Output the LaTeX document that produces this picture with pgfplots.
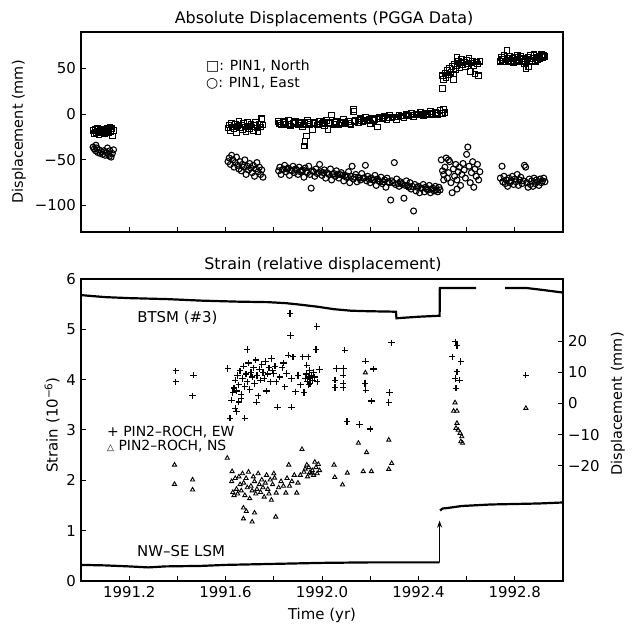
\documentclass[border=0pt]{standalone}
\usepackage{fontspec}
\setmainfont{DejaVu Sans}
\usepackage{pgfplots}
\pgfplotsset{compat=1.18}
\usetikzlibrary{arrows.meta}
\begin{document}
\fontsize{15}{17}\selectfont
\begin{tikzpicture}
\path[use as bounding box] (0bp,0bp) rectangle (633bp,626bp);
\pgfplotsset{
 base/.style={scale only axis, width=482bp, xmin=1991, xmax=1993,
   xtick={1991.2,1991.4,1991.6,1991.8,1992.0,1992.2,1992.4,1992.6,1992.8},
   tick align=inside, tick pos=left, major tick length=5bp,
   tick style={line width=1pt, black},
   axis line style={line width=1.5pt},
   font=\fontsize{15}{17}\selectfont, anchor=south west},
 nmark/.style={only marks, mark=square, mark size=2.8bp, mark options={line width=1.1pt, black, fill=none}},
 emark/.style={only marks, mark=o, mark size=3bp, mark options={line width=1.1pt, black, fill=none}},
 ewmark/.style={only marks, mark=+, mark size=3.2bp, mark options={line width=1.2pt, black}},
 nsmark/.style={only marks, mark=triangle, mark size=2.4bp, mark options={line width=0.9pt, black, fill=none}},
 strainline/.style={black, line width=2.2bp, no marks}
}
% ---------------- TOP PANEL ----------------
\begin{axis}[base, at={(81bp,394bp)}, height=200bp, ymin=-129, ymax=90,
  xticklabels={}, ytick={-100,-50,0,50}, yticklabels={−100,−50,0,50}]
% North
\addplot[nmark] coordinates {
(1991.050,-18)(1991.055,-21)(1991.060,-17)(1991.065,-20)(1991.070,-19)(1991.075,-22)(1991.080,-18)(1991.085,-20)(1991.090,-17)(1991.095,-19)(1991.100,-21)(1991.105,-18)(1991.110,-16)(1991.115,-20)(1991.120,-14)(1991.125,-19)(1991.130,-24)(1991.135,-18)(1991.128,-16)(1991.068,-16)
(1991.610,-15)(1991.615,-12)(1991.620,-18)(1991.625,-10)(1991.630,-14)(1991.635,-16)(1991.640,-11)(1991.645,-20)(1991.650,-13)(1991.655,-8)(1991.660,-15)(1991.665,-12)(1991.670,-17)(1991.675,-10)(1991.680,-14)(1991.690,-9)(1991.695,-13)(1991.700,-16)(1991.705,-11)(1991.710,-14)(1991.715,-18)(1991.720,-12)(1991.725,-9)(1991.730,-15)(1991.735,-19)(1991.740,-11)(1991.745,-14)(1991.750,-5)(1991.755,-12)(1991.685,-19)
(1991.820,-8)(1991.830,-12)(1991.840,-9)(1991.850,-11)(1991.860,-7)(1991.870,-13)(1991.880,-10)(1991.890,-8)(1991.900,-12)(1991.910,-9)(1991.920,-14)(1991.930,-10)(1991.940,-7)(1991.950,-11)(1991.960,-17)(1991.970,-9)(1991.980,-12)(1991.990,-8)(1992.000,-10)(1992.010,-13)(1992.020,-7)(1992.025,-17)(1992.030,-9)(1992.040,-1)(1992.050,-11)(1992.060,-8)(1992.070,-12)(1992.080,-9)(1992.090,-6)(1992.100,-10)(1992.110,-8)(1992.120,-12)(1992.130,5)(1992.132,3)(1992.140,-7)(1992.150,-9)(1992.160,-5)(1992.170,-8)(1992.180,-3)(1992.190,-7)(1992.200,-10)(1992.210,-5)(1992.220,-6)(1992.230,-14)(1992.240,-3)(1992.250,-5)(1992.260,-2)(1992.270,-6)(1992.280,-1)(1992.290,-4)(1992.300,-3)(1992.310,-6)(1992.320,-1)(1992.330,-2)(1992.340,-4)(1992.350,0)(1992.360,-2)(1992.370,1)(1992.380,-3)(1992.390,0)(1992.400,-1)(1992.410,2)(1992.420,-2)(1992.430,1)(1992.440,-1)(1992.450,3)(1992.460,0)(1992.470,2)(1992.480,-1)(1992.490,4)(1992.500,1)(1992.505,5)(1992.510,2)
(1991.825,-10)(1991.845,-8)(1991.865,-11)(1991.885,-9)(1991.905,-10)(1991.925,-12)(1991.945,-9)(1991.965,-10)(1991.985,-11)(1992.005,-9)(1992.035,-10)(1992.055,-9)(1992.075,-10)(1992.095,-9)(1992.115,-10)(1992.135,-8)(1992.155,-7)(1992.175,-7)(1992.195,-6)(1992.215,-7)(1992.235,-5)(1992.255,-4)(1992.275,-4)(1992.295,-3)(1992.315,-3)(1992.335,-2)(1992.355,-1)(1992.375,-1)(1992.395,-1)(1992.415,0)(1992.435,0)(1992.455,1)(1992.475,1)(1992.495,1)
(1991.935,-24)(1991.930,-30)(1991.926,-35)
(1992.500,28)(1992.500,42)(1992.505,38)(1992.510,45)(1992.515,40)(1992.520,48)(1992.525,43)(1992.530,50)(1992.535,46)(1992.540,52)(1992.545,44)(1992.550,55)(1992.555,49)(1992.560,53)(1992.565,58)(1992.570,51)(1992.575,56)(1992.580,60)(1992.585,54)(1992.590,57)(1992.595,52)(1992.600,59)(1992.605,55)(1992.610,61)(1992.615,47)(1992.620,56)(1992.625,58)(1992.630,53)(1992.635,44)(1992.640,57)(1992.645,55)(1992.650,42)(1992.655,58)(1992.545,38)(1992.560,62)
(1992.740,58)(1992.745,62)(1992.750,60)(1992.755,64)(1992.760,57)(1992.767,70)(1992.770,61)(1992.775,59)(1992.780,63)(1992.785,58)(1992.790,61)(1992.795,56)(1992.800,62)(1992.805,59)(1992.810,64)(1992.815,57)(1992.820,60)(1992.825,63)(1992.830,58)(1992.835,61)(1992.840,55)(1992.846,50)(1992.850,60)(1992.855,62)(1992.860,57)(1992.865,64)(1992.870,59)(1992.875,61)(1992.880,65)(1992.885,58)(1992.890,62)(1992.895,60)(1992.900,63)(1992.905,61)(1992.910,65)(1992.915,62)(1992.920,64)(1992.925,63)(1992.858,52)
};
% East
\addplot[emark] coordinates {
(1991.050,-36)(1991.055,-38)(1991.060,-40)(1991.065,-37)(1991.070,-42)(1991.075,-39)(1991.080,-43)(1991.085,-41)(1991.090,-44)(1991.095,-40)(1991.100,-45)(1991.105,-42)(1991.110,-37)(1991.115,-44)(1991.120,-40)(1991.125,-47)(1991.130,-43)(1991.135,-39)(1991.062,-34)(1991.118,-46)
(1991.610,-52)(1991.615,-48)(1991.620,-55)(1991.625,-45)(1991.630,-50)(1991.635,-58)(1991.640,-53)(1991.645,-47)(1991.650,-56)(1991.655,-60)(1991.660,-52)(1991.665,-62)(1991.670,-55)(1991.675,-58)(1991.680,-50)(1991.685,-66)(1991.690,-57)(1991.695,-61)(1991.700,-54)(1991.705,-59)(1991.710,-64)(1991.715,-56)(1991.720,-68)(1991.725,-60)(1991.730,-53)(1991.735,-63)(1991.740,-58)(1991.745,-66)(1991.750,-61)(1991.755,-69)
(1991.820,-62)(1991.825,-58)(1991.830,-66)(1991.840,-60)(1991.845,-56)(1991.850,-63)(1991.860,-59)(1991.865,-67)(1991.870,-61)(1991.880,-57)(1991.885,-64)(1991.890,-60)(1991.900,-66)(1991.905,-58)(1991.910,-63)(1991.920,-61)(1991.925,-69)(1991.930,-59)(1991.940,-64)(1991.945,-57)(1991.950,-66)(1991.955,-81)(1991.960,-62)(1991.970,-68)(1991.975,-60)(1991.980,-65)(1991.990,-55)(1991.995,-63)(1992.000,-67)(1992.010,-61)(1992.015,-70)(1992.020,-64)(1992.030,-66)(1992.035,-60)(1992.040,-72)(1992.050,-65)(1992.055,-68)(1992.060,-62)(1992.070,-70)(1992.075,-66)(1992.080,-64)(1992.090,-73)(1992.095,-67)(1992.100,-69)(1992.110,-63)(1992.115,-75)(1992.120,-68)(1992.125,-57)(1992.130,-71)(1992.140,-66)(1992.145,-74)(1992.150,-69)(1992.160,-72)(1992.165,-65)(1992.170,-70)(1992.180,-56)(1992.185,-73)(1992.190,-68)(1992.200,-75)(1992.205,-70)(1992.210,-72)(1992.220,-67)(1992.225,-78)(1992.230,-71)(1992.240,-74)(1992.245,-69)(1992.250,-76)(1992.260,-72)(1992.265,-80)(1992.270,-70)(1992.280,-75)(1992.285,-94)(1992.290,-73)(1992.300,-53)(1992.305,-77)(1992.310,-71)(1992.320,-79)(1992.325,-74)(1992.330,-76)(1992.340,-92)(1992.345,-78)(1992.350,-73)(1992.360,-80)(1992.365,-75)(1992.370,-82)(1992.380,-106)(1992.385,-77)(1992.390,-84)(1992.400,-79)(1992.405,-86)(1992.410,-81)(1992.420,-77)(1992.425,-85)(1992.430,-80)(1992.440,-83)(1992.445,-78)(1992.450,-86)(1992.460,-81)(1992.465,-84)(1992.470,-79)(1992.480,-85)(1992.485,-80)(1992.490,-83)
(1991.835,-61)(1991.855,-60)(1991.875,-62)(1991.895,-61)(1991.915,-62)(1991.935,-63)(1991.965,-63)(1991.985,-64)(1992.005,-64)(1992.025,-65)(1992.045,-66)(1992.065,-66)(1992.085,-67)(1992.105,-68)(1992.135,-69)(1992.155,-70)(1992.175,-70)(1992.195,-71)(1992.215,-72)(1992.235,-73)(1992.255,-74)(1992.275,-74)(1992.295,-75)(1992.315,-76)(1992.335,-77)(1992.355,-78)(1992.375,-79)(1992.395,-80)(1992.415,-81)(1992.435,-82)(1992.455,-82)(1992.475,-83)
(1992.495,-50)(1992.500,-62)(1992.505,-66)(1992.510,-58)(1992.515,-48)(1992.520,-70)(1992.525,-64)(1992.530,-52)(1992.535,-75)(1992.540,-86)(1992.545,-60)(1992.550,-68)(1992.555,-55)(1992.560,-72)(1992.565,-63)(1992.570,-58)(1992.575,-78)(1992.580,-66)(1992.585,-54)(1992.590,-61)(1992.595,-70)(1992.600,-44)(1992.605,-36)(1992.610,-57)(1992.615,-75)(1992.620,-64)(1992.625,-52)(1992.630,-80)(1992.635,-60)(1992.640,-68)(1992.645,-55)(1992.650,-72)(1992.655,-63)(1992.505,-72)(1992.525,-50)(1992.560,-82)
(1992.740,-70)(1992.747,-57)(1992.750,-74)(1992.755,-68)(1992.760,-76)(1992.765,-72)(1992.770,-79)(1992.775,-70)(1992.780,-75)(1992.785,-73)(1992.790,-68)(1992.795,-77)(1992.800,-71)(1992.805,-74)(1992.810,-66)(1992.815,-78)(1992.820,-72)(1992.825,-69)(1992.830,-76)(1992.835,-73)(1992.840,-56)(1992.845,-58)(1992.850,-75)(1992.855,-80)(1992.860,-71)(1992.865,-77)(1992.870,-73)(1992.875,-79)(1992.880,-70)(1992.885,-76)(1992.890,-72)(1992.895,-74)(1992.900,-78)(1992.905,-71)(1992.910,-75)(1992.915,-73)(1992.920,-70)(1992.925,-74)
};
\end{axis}
% ---------------- BOTTOM PANEL (strain) ----------------
\begin{axis}[base, at={(81bp,45bp)}, height=302bp, ymin=0, ymax=6,
  xticklabels={1991.2,,1991.6,,1992.0,,1992.4,,1992.8},
  ytick={0,1,2,3,4,5,6}, yticklabels={0,1,2,3,4,5,6}]
\addplot[strainline] coordinates {(1991.00,5.68)(1991.10,5.64)(1991.20,5.62)(1991.36,5.60)(1991.50,5.57)(1991.65,5.55)(1991.776,5.54)(1991.85,5.52)(1991.91,5.49)(1991.98,5.45)(1992.05,5.40)(1992.12,5.37)(1992.19,5.36)(1992.307,5.35)(1992.309,5.22)(1992.40,5.25)(1992.488,5.27)(1992.489,5.82)(1992.64,5.82)};
\addplot[strainline] coordinates {(1992.76,5.82)(1992.85,5.82)(1992.92,5.78)(1993.00,5.73)};
\addplot[strainline] coordinates {(1991.00,0.32)(1991.10,0.31)(1991.20,0.29)(1991.28,0.27)(1991.35,0.29)(1991.50,0.30)(1991.60,0.32)(1991.80,0.34)(1992.00,0.36)(1992.20,0.37)(1992.488,0.37)};
\addplot[strainline] coordinates {(1992.490,1.40)(1992.50,1.44)(1992.52,1.45)(1992.58,1.49)(1992.70,1.52)(1992.80,1.53)(1992.90,1.54)(1993.00,1.56)};
\draw[-{Stealth[length=7bp,width=5bp]}, line width=1pt] (axis cs:1992.488,0.37) -- (axis cs:1992.488,1.2);
\node at (axis cs:1991.40,5.23) {BTSM (\#3)};
\node at (axis cs:1991.415,0.60) {NW–SE LSM};
\end{axis}
% ---------------- BOTTOM PANEL (right axis, displacement) ----------------
\begin{axis}[base, at={(81bp,45bp)}, height=302bp, ymin=-57, ymax=40,
  hide x axis, axis y line*=right, ytick={-20,-10,0,10,20},
  yticklabels={−20,−10,0,10,20}, tick pos=right]
\addplot[ewmark] coordinates {
(1991.393,10.5)(1991.393,7.0)(1991.466,9.1)(1991.462,2.5)
(1991.609,11.3)(1991.618,-4.7)(1991.680,-4.7)(1991.640,-1.5)(1991.625,1.1)(1991.690,17.3)(1991.728,0.4)
(1991.630,3.5)(1991.635,5.0)(1991.640,7.5)(1991.645,4.0)(1991.650,9.0)(1991.655,6.0)(1991.660,10.5)(1991.665,3.0)(1991.670,8.0)(1991.675,12.0)(1991.680,5.5)(1991.685,9.5)(1991.690,7.0)(1991.695,13.0)(1991.700,4.5)(1991.705,10.0)(1991.710,8.5)(1991.715,11.5)(1991.720,6.5)(1991.725,14.0)(1991.730,9.0)(1991.735,2.5)(1991.740,11.0)(1991.745,7.5)(1991.750,12.5)(1991.755,10.0)(1991.760,8.0)(1991.765,13.5)(1991.770,4.0)(1991.775,9.5)(1991.780,11.5)(1991.785,7.0)(1991.790,14.5)(1991.795,10.5)(1991.800,9.7)(1991.805,12.0)(1991.810,7.0)(1991.815,-1.2)(1991.645,-2.5)(1991.655,0.5)(1991.665,1.5)
(1991.867,28.9)(1991.978,24.8)(1991.870,21.9)(1991.975,17.3)(1992.095,17.1)(1992.288,19.5)(1992.180,13.6)(1992.213,11.1)(1992.060,11.3)(1992.090,11.3)(1992.054,7.5)(1992.088,9.1)(1992.088,6.5)(1992.054,5.2)(1992.088,5.2)(1992.178,6.5)(1992.182,4.3)(1992.206,0.8)(1992.280,3.5)(1992.277,0.3)(1992.104,-5.8)(1992.155,-6.7)(1992.200,-8.2)
(1991.874,-1.2)(1991.890,3.8)(1991.925,3.5)(1991.920,15.0)(1991.943,15.0)(1991.937,12.3)(1991.948,10.7)(1991.990,10.9)(1991.860,15.5)(1991.880,15.0)(1991.853,9.7)(1991.874,8.1)(1991.846,5.4)
(1991.930,8.0)(1991.935,9.5)(1991.940,7.0)(1991.945,8.5)(1991.950,6.5)(1991.955,9.0)(1991.960,7.5)(1991.965,10.0)(1991.950,8.0)(1991.945,6.0)(1991.970,8.5)(1991.980,7.0)(1991.910,6.0)(1991.900,9.0)(1991.835,11.5)(1991.825,8.5)(1991.840,13.0)
(1992.553,19.8)(1992.560,18.7)(1992.540,15.0)(1992.576,13.5)(1992.560,10.2)(1992.553,8.1)(1992.570,7.5)(1992.556,4.9)(1992.846,9.1)
};
\addplot[nsmark] coordinates {
(1991.388,-19.7)(1991.388,-25.9)(1991.463,-24.5)(1991.463,-27.7)(1991.607,-17.5)(1991.627,-21.8)(1991.674,-37.0)(1991.710,-38.0)(1991.674,-33.5)(1991.686,-34.6)(1991.720,-35.1)(1991.808,-36.4)(1991.862,-19.7)(1991.917,-14.7)(1991.937,-19.7)(1991.970,-18.8)(1991.950,-22.1)(1992.050,-19.7)(1992.053,-23.7)(1992.085,-26.1)(1992.105,-22.3)(1992.151,-12.7)(1992.185,-15.7)(1992.171,-21.8)(1992.205,-21.8)(1992.277,-11.7)(1992.289,-19.2)(1992.277,-21.1)(1991.803,-23.9)(1991.850,-28.7)(1991.895,-28.7)(1991.810,-28.7)(1992.180,9.9)
(1991.625,-25.0)(1991.630,-28.5)(1991.635,-29.5)(1991.640,-24.0)(1991.645,-27.5)(1991.650,-29.0)(1991.655,-23.5)(1991.660,-26.0)(1991.665,-28.0)(1991.670,-22.5)(1991.675,-25.5)(1991.680,-29.5)(1991.685,-24.0)(1991.690,-27.0)(1991.695,-22.0)(1991.700,-30.5)(1991.705,-26.5)(1991.710,-28.0)(1991.715,-23.5)(1991.720,-25.0)(1991.725,-29.0)(1991.730,-27.5)(1991.735,-22.5)(1991.740,-26.0)(1991.745,-28.5)(1991.750,-24.5)(1991.755,-27.0)(1991.760,-30.0)(1991.765,-25.5)(1991.770,-23.0)(1991.775,-27.5)(1991.780,-29.0)(1991.785,-24.5)(1991.790,-31.0)(1991.795,-26.0)(1991.800,-22.5)(1991.820,-27.0)(1991.830,-25.0)(1991.840,-26.5)(1991.855,-24.0)(1991.865,-26.5)(1991.875,-25.0)(1991.885,-23.0)(1991.900,-25.5)(1991.910,-23.0)(1991.925,-22.0)(1991.930,-21.0)(1991.940,-23.5)(1991.945,-20.5)(1991.955,-22.5)(1991.960,-21.5)(1991.965,-23.0)(1991.975,-20.5)(1991.980,-22.5)(1991.990,-21.5)(1991.985,-19.5)
(1992.552,0.3)(1992.546,-2.4)(1992.560,-2.4)(1992.560,-6.3)(1992.556,-7.9)(1992.565,-8.5)(1992.573,-9.5)(1992.580,-10.6)(1992.576,-12.2)(1992.583,-12.7)(1992.846,-1.5)
};
\end{axis}
% ---------------- texts ----------------
\node[font=\fontsize{16}{18}\selectfont] at (324bp,607bp) {Absolute Displacements (PGGA Data)};
\node[font=\fontsize{16}{18}\selectfont] at (323bp,361bp) {Strain (relative displacement)};
\node at (322bp,11bp) {Time (yr)};
\node[rotate=90, font=\fontsize{14.5}{16}\selectfont] at (19bp,494bp) {Displacement (mm)};
\node[rotate=90] at (52bp,201bp) {Strain (10\textsuperscript{−6})};
\node[rotate=90, font=\fontsize{14.5}{16}\selectfont] at (618bp,222bp) {Displacement (mm)};
\node[anchor=west, font=\fontsize{14}{16}\selectfont] at (201bp,560bp) {□: PIN1, North};
\node[anchor=west, font=\fontsize{14}{16}\selectfont] at (201bp,543bp) {○: PIN1, East};
\node[anchor=west, font=\fontsize{14}{16}\selectfont] at (102bp,194bp) {+ PIN2–ROCH, EW};
\node[anchor=west, font=\fontsize{14}{16}\selectfont] at (102bp,180bp) {{\fontsize{9}{9}\selectfont △} PIN2–ROCH, NS};
\end{tikzpicture}
\end{document}
